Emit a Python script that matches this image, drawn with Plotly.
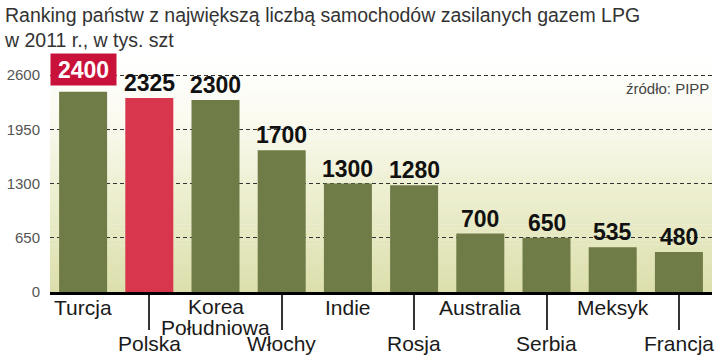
import plotly.graph_objects as go

categories = ["Turcja", "Polska", "Korea Południowa", "Włochy", "Indie",
              "Rosja", "Australia", "Serbia", "Meksyk", "Francja"]
values = [2400, 2325, 2300, 1700, 1300, 1280, 700, 650, 535, 480]
value_labels = ["2400", "2325", "2300", "1700", "1300", "1280", "700", "650", "535", "480"]
ytick_vals = [0, 650, 1300, 1950, 2600]
ytick_text = ["0", "650", "1300", "1950", "2600"]
title_lines = ["Ranking państw z największą liczbą samochodów zasilanych gazem LPG",
               "w 2011 r., w tys. szt"]
source_text = "źródło: PIPP"

W, H = 720, 356
ML, MR, MT, MB = 50, 8, 55, 64
PW, PH = W - ML - MR, H - MT - MB
YMAX = 2840

def px(xp):
    return (xp - ML) / PW

def py(yp):
    return (H - MB - yp) / PH

GREEN = "#6f7c47"
RED = "#d8364c"
BOX_RED = "#c9123a"
FONT = "Liberation Sans, Arial, sans-serif"

n = len(categories)
xs = list(range(n))

fig = go.Figure()

colors = [RED if c == "Polska" else GREEN for c in categories]
fig.add_trace(go.Bar(
    x=xs, y=values, marker=dict(color=colors, line=dict(width=0)),
    width=0.725, showlegend=False, hoverinfo="skip",
))

# decorative background gradient (paper-space strips, below grid)
bg_stops = [(0.0, (220, 223, 172)), (0.45, (238, 240, 211)),
            (0.75, (251, 251, 242)), (1.0, (255, 255, 255))]

def bg_color(t):
    for (t0, c0), (t1, c1) in zip(bg_stops[:-1], bg_stops[1:]):
        if t0 <= t <= t1:
            f = (t - t0) / (t1 - t0)
            c = [round(a + (b - a) * f) for a, b in zip(c0, c1)]
            return "rgb(%d,%d,%d)" % tuple(c)
    return "rgb(255,255,255)"

shapes = []
NSTRIP = 60
for k in range(NSTRIP):
    y0 = k / NSTRIP
    y1 = (k + 1) / NSTRIP + 0.002
    shapes.append(dict(type="rect", xref="paper", yref="paper",
                       x0=0, x1=1, y0=y0, y1=min(y1, 1),
                       fillcolor=bg_color((k + 0.5) / NSTRIP),
                       line=dict(width=0), layer="below"))

annotations = []
# value labels
for i, (v, t) in enumerate(zip(values, value_labels)):
    if i == 0:
        annotations.append(dict(
            x=i, y=v, xref="x", yref="y", text=t, showarrow=False,
            yanchor="bottom", yshift=6, bgcolor=BOX_RED, borderpad=3,
            width=59, height=25,
            font=dict(family=FONT, size=23, color="white", weight="bold"),
        ))
    else:
        annotations.append(dict(
            x=i, y=v, xref="x", yref="y", text=t, showarrow=False,
            yanchor="bottom", yshift=0,
            font=dict(family=FONT, size=23, color="#111111", weight="bold"),
        ))

# category labels (alternating rows)
ROW1, ROW2, KOREA1, KOREA2 = 307, 343, 306, 327
for i, c in enumerate(categories):
    if c == "Korea Południowa":
        parts = [("Korea", KOREA1), ("Południowa", KOREA2)]
    else:
        parts = [(c, ROW1 if i % 2 == 0 else ROW2)]
    for txt, yy in parts:
        annotations.append(dict(
            x=i, y=py(yy), xref="x", yref="paper", text=txt, showarrow=False,
            yanchor="middle", xanchor="center",
            font=dict(family=FONT, size=21, color="#1a1a1a"),
        ))

# title
annotations.append(dict(
    x=px(2), y=py(2), xref="paper", yref="paper",
    text="<br>".join(title_lines), showarrow=False,
    xanchor="left", yanchor="top", align="left",
    font=dict(family=FONT, size=19.5, color="#333333"),
))
# source
annotations.append(dict(
    x=px(711), y=py(88), xref="paper", yref="paper",
    text=source_text, showarrow=False, xanchor="right", yanchor="middle",
    font=dict(family=FONT, size=15, color="#444444"),
))

fig.update_layout(
    width=W, height=H,
    margin=dict(l=ML, r=MR, t=MT, b=MB),
    paper_bgcolor="white", plot_bgcolor="white",
    bargap=0.275,
    annotations=annotations,
    shapes=shapes,
    xaxis=dict(range=[-0.5, n - 0.5], tickvals=[1, 3, 5, 7, 9],
               showticklabels=False, ticks="outside", ticklen=35,
               tickwidth=1.5, tickcolor="#333333",
               showline=True, linewidth=3, linecolor="black",
               showgrid=False, zeroline=False, fixedrange=True),
    yaxis=dict(range=[0, YMAX], tickvals=ytick_vals, ticktext=ytick_text,
               showgrid=True, gridcolor="#333333", gridwidth=1,
               griddash="4px,3px", zeroline=False,
               ticks="outside", ticklen=6, tickcolor="rgba(0,0,0,0)",
               tickfont=dict(family=FONT, size=15, color="#555555"),
               fixedrange=True),
)

fig.write_html("out.html")
